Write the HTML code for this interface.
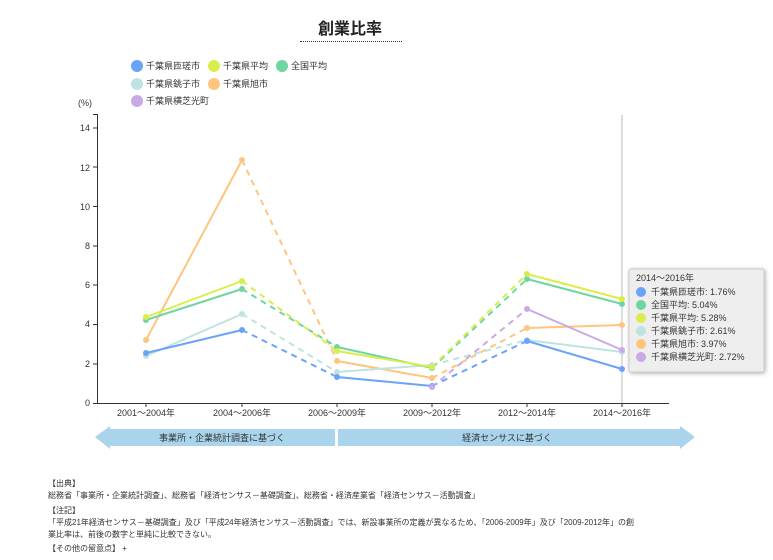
<!DOCTYPE html><html><head><meta charset="utf-8"><style>
body{margin:0;width:773px;height:560px;background:#fff;font-family:"Liberation Sans","Noto Sans CJK JP",sans-serif;overflow:hidden;position:relative}
.t{position:absolute;font-size:9px;color:#333;white-space:nowrap}
</style></head><body>
<div style="position:absolute;left:300px;top:15px;width:100px;text-align:center;font-size:16px;font-weight:bold;color:#222">創業比率</div>
<div style="position:absolute;left:300px;top:41px;width:102px;border-top:1px dotted #333"></div>
<svg width="773" height="560" style="position:absolute;left:0;top:0" font-family="Liberation Sans, Noto Sans CJK JP, sans-serif">
<g font-size="9" fill="#333">
<circle cx="137" cy="66" r="6" fill="#6aa3f8"/><text x="146" y="69">千葉県匝瑳市</text>
<circle cx="214" cy="66" r="6" fill="#d9ee4a"/><text x="223" y="69">千葉県平均</text>
<circle cx="282" cy="66" r="6" fill="#6fd6a0"/><text x="291" y="69">全国平均</text>
<circle cx="137" cy="84" r="6" fill="#bfe3e0"/><text x="146" y="87">千葉県銚子市</text>
<circle cx="214" cy="84" r="6" fill="#fdc57e"/><text x="223" y="87">千葉県旭市</text>
<circle cx="137" cy="101" r="6" fill="#c9a9e6"/><text x="146" y="104">千葉県横芝光町</text>
<text x="78" y="106">(%)</text>
</g>
<g stroke="#333" stroke-width="1" fill="none">
<path d="M93 114.5H97.5V403.5H669"/>
</g>
<g font-size="9" fill="#333" text-anchor="end">
<text x="90" y="406">0</text><text x="90" y="367">2</text><text x="90" y="327">4</text><text x="90" y="288">6</text><text x="90" y="249">8</text><text x="90" y="210">10</text><text x="90" y="171">12</text><text x="90" y="131">14</text>
</g>
<g stroke="#333"><path d="M93 403.5h4M93 364h4M93 324.5h4M93 285h4M93 246h4M93 206.5h4M93 167h4M93 128h4"/>
<path d="M146 403v4M242 403v4M337 403v4M432 403v4M527 403v4M622 403v4"/></g>
<g font-size="9" fill="#333" text-anchor="middle">
<text x="146" y="416">2001～2004年</text><text x="242" y="416">2004～2006年</text><text x="337" y="416">2006～2009年</text><text x="432" y="416">2009～2012年</text><text x="527" y="416">2012～2014年</text><text x="622" y="416">2014～2016年</text>
</g>
<line x1="622" y1="115" x2="622" y2="403" stroke="#bbb"/>
<g fill="none" stroke-width="2">
<!-- orange -->
<g stroke="#fdc57e"><path d="M146 340L242 160M337 361L432 378M527 328L622 325"/><path d="M242 160L337 361M432 378L527 328" stroke-dasharray="6,5"/></g>
<!-- teal -->
<g stroke="#bfe3e0"><path d="M146 356L242 314M337 372L432 365M527 340L622 352"/><path d="M242 314L337 372M432 365L527 340" stroke-dasharray="6,5"/></g>
<!-- blue -->
<g stroke="#6aa3f8"><path d="M146 353L242 330M337 377L432 386M527 341L622 369"/><path d="M242 330L337 377M432 386L527 341" stroke-dasharray="6,5"/></g>
<!-- green -->
<g stroke="#6fd6a0"><path d="M146 320L242 289M337 347L432 368M527 279L622 304"/><path d="M242 289L337 347M432 368L527 279" stroke-dasharray="6,5"/></g>
<!-- yellow -->
<g stroke="#d9ee4a"><path d="M146 317L242 281M337 351L432 367M527 274L622 299"/><path d="M242 281L337 351M432 367L527 274" stroke-dasharray="6,5"/></g>
<!-- purple -->
<g stroke="#c9a9e6"><path d="M527 309L622 350"/><path d="M432 387L527 309" stroke-dasharray="6,5"/></g>
</g>
<g>
<g fill="#fdc57e"><circle cx="146" cy="340" r="3"/><circle cx="242" cy="160" r="3"/><circle cx="337" cy="361" r="3"/><circle cx="432" cy="378" r="3"/><circle cx="527" cy="328" r="3"/><circle cx="622" cy="325" r="3"/></g>
<g fill="#bfe3e0"><circle cx="146" cy="356" r="3"/><circle cx="242" cy="314" r="3"/><circle cx="337" cy="372" r="3"/><circle cx="432" cy="365" r="3"/><circle cx="527" cy="340" r="3"/><circle cx="622" cy="352" r="3"/></g>
<g fill="#6aa3f8"><circle cx="146" cy="353" r="3"/><circle cx="242" cy="330" r="3"/><circle cx="337" cy="377" r="3"/><circle cx="432" cy="386" r="3"/><circle cx="527" cy="341" r="3"/><circle cx="622" cy="369" r="3"/></g>
<g fill="#6fd6a0"><circle cx="146" cy="320" r="3"/><circle cx="242" cy="289" r="3"/><circle cx="337" cy="347" r="3"/><circle cx="432" cy="368" r="3"/><circle cx="527" cy="279" r="3"/><circle cx="622" cy="304" r="3"/></g>
<g fill="#d9ee4a"><circle cx="146" cy="317" r="3"/><circle cx="242" cy="281" r="3"/><circle cx="337" cy="351" r="3"/><circle cx="432" cy="367" r="3"/><circle cx="527" cy="274" r="3"/><circle cx="622" cy="299" r="3"/></g>
<g fill="#c9a9e6"><circle cx="432" cy="387" r="3"/><circle cx="527" cy="309" r="3"/><circle cx="622" cy="350" r="3"/></g>
</g>
<!-- arrows -->
<path d="M95 437L110 426V429H335V446H110V449Z" fill="#a9d4ec"/>
<path d="M338 429H680V426L695 437L680 449V446H338Z" fill="#a9d4ec"/>
<g font-size="9" fill="#333" text-anchor="middle"><text x="222" y="441">事業所・企業統計調査に基づく</text><text x="507" y="441">経済センサスに基づく</text></g>
<!-- tooltip -->
<rect x="629" y="269" width="135" height="103" rx="2" fill="#eee" stroke="#ccc" style="filter:drop-shadow(1px 1px 2px rgba(0,0,0,.3))"/>
<g font-size="9" fill="#333">
<text x="636" y="281">2014～2016年</text>
<circle cx="641" cy="292" r="5" fill="#6aa3f8"/><text x="651" y="295">千葉県匝瑳市: 1.76%</text>
<circle cx="641" cy="305" r="5" fill="#6fd6a0"/><text x="651" y="308">全国平均: 5.04%</text>
<circle cx="641" cy="318" r="5" fill="#d9ee4a"/><text x="651" y="321">千葉県平均: 5.28%</text>
<circle cx="641" cy="331" r="5" fill="#bfe3e0"/><text x="651" y="334">千葉県銚子市: 2.61%</text>
<circle cx="641" cy="344" r="5" fill="#fdc57e"/><text x="651" y="347">千葉県旭市: 3.97%</text>
<circle cx="641" cy="357" r="5" fill="#c9a9e6"/><text x="651" y="360">千葉県横芝光町: 2.72%</text>
</g>
</svg>
<div class="t" style="left:48px;top:478px;font-size:8px">【出典】</div>
<div class="t" style="left:48px;top:490px;font-size:8px">総務省「事業所・企業統計調査」、総務省「経済センサス－基礎調査」、総務省・経済産業省「経済センサス－活動調査」</div>
<div class="t" style="left:48px;top:505px;font-size:8px">【注記】</div>
<div class="t" style="left:48px;top:517px;font-size:8px">「平成21年経済センサス－基礎調査」及び「平成24年経済センサス－活動調査」では、新設事業所の定義が異なるため、「2006-2009年」及び「2009-2012年」の創</div>
<div class="t" style="left:48px;top:529px;font-size:8px">業比率は、前後の数字と単純に比較できない。</div>
<div class="t" style="left:48px;top:543px;font-size:8px">【その他の留意点】 +</div>
</body></html>
